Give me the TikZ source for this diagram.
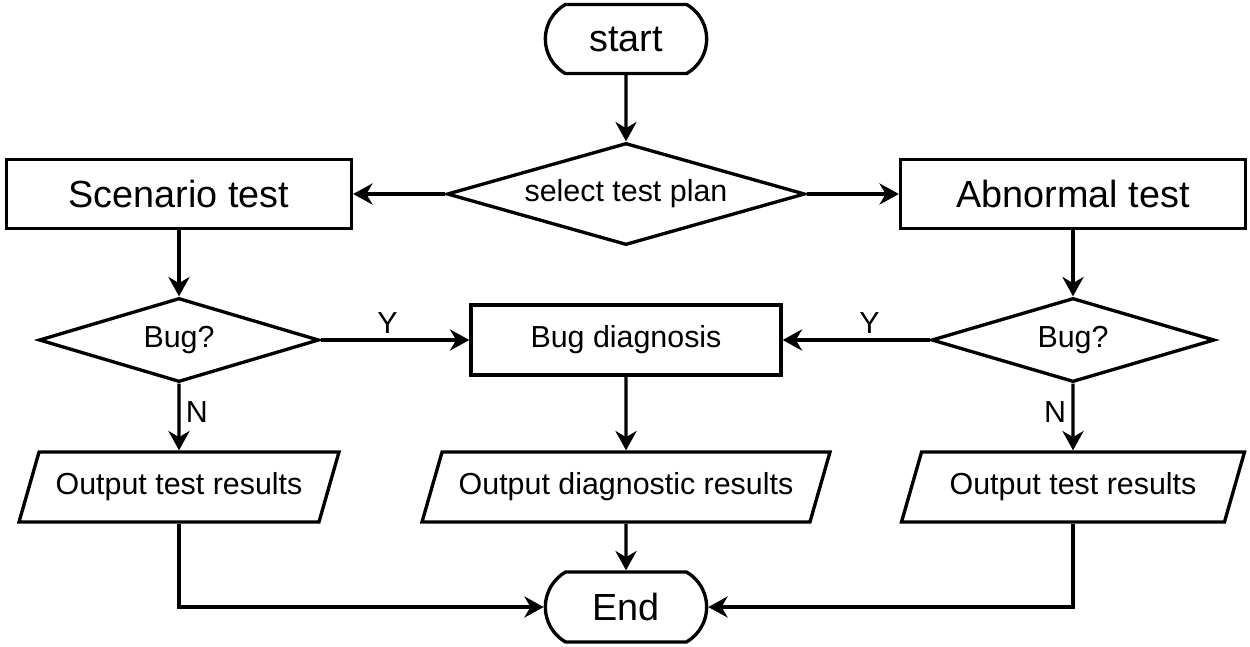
\documentclass[tikz,border=0pt]{standalone}
\usepackage{fontspec}
\setmainfont{Liberation Sans}
\usetikzlibrary{shapes.geometric}
\usetikzlibrary{shapes.misc}
\usetikzlibrary{arrows.meta}
\newcommand{\bigtxt}{\fontsize{21.5}{25}\selectfont}
\newcommand{\smalltxt}{\fontsize{17.3}{20}\selectfont}
\tikzset{
	line/.style={line width=1.9pt},
	arr/.style={line, -{Stealth[length=11pt,width=12pt,inset=3.5pt]}},
	terminal/.style={line, draw, rounded rectangle, rounded rectangle arc length=120,
		minimum width=3.46cm, minimum height=1.38cm, font=\bigtxt},
	process/.style={line, draw, rectangle, minimum width=6.9cm, minimum height=1.38cm, font=\bigtxt},
	decision/.style={line, draw, diamond, aspect=3.4, inner sep=0pt, font=\smalltxt},
	iobox/.style={line, draw, trapezium, trapezium left angle=63.4, trapezium right angle=116.6,
		trapezium stretches body, minimum height=1.4cm, font=\smalltxt},
	yn/.style={font=\smalltxt, inner sep=3pt}
}

\begin{document}
\begin{tikzpicture}
	% page: 1250 x 646 px, 1px = 0.02cm
	\useasboundingbox (0, 0) rectangle (25, -12.92);
	
	% top row
	\node[terminal] (start) at (12.52, -0.78) {start};
	\node[decision, minimum width=7.16cm, minimum height=2.04cm] (plan) at (12.52, -3.88) {select test plan};
	\node[process] (scen) at (3.58, -3.88) {Scenario test};
	\node[process] (abn) at (21.46, -3.88) {Abnormal test};
	
	% bug checks
	\node[decision, minimum width=5.6cm, minimum height=1.68cm] (bugl) at (3.58, -6.8) {Bug?};
	\node[decision, minimum width=5.66cm, minimum height=1.68cm] (bugr) at (21.46, -6.8) {Bug?};
	\node[process, minimum width=6.2cm, minimum height=1.4cm, font=\smalltxt] (diag) at (12.52, -6.8) {Bug diagnosis};
	
	% outputs
	\node[iobox, minimum width=6.4cm] (outl) at (3.58, -9.74) {Output test results};
	\node[iobox, minimum width=8.16cm] (outm) at (12.52, -9.74) {Output diagnostic results};
	\node[iobox, minimum width=6.86cm] (outr) at (21.46, -9.74) {Output test results};
	
	\node[terminal, minimum height=1.4cm] (end) at (12.52, -12.14) {End};
	
	% connectors
	\draw[arr] (start) -- (plan);
	\draw[arr] (plan) -- (scen);
	\draw[arr] (plan) -- (abn);
	\draw[arr] (scen) -- (bugl);
	\draw[arr] (abn) -- (bugr);
	\draw[arr] (bugl) -- node[yn, above, pos=0.45] {Y} (diag);
	\draw[arr] (bugr) -- node[yn, above, pos=0.41] {Y} (diag);
	\draw[arr] (bugl) -- node[yn, right, pos=0.42] {N} (outl);
	\draw[arr] (bugr) -- node[yn, left, pos=0.42] {N} (outr);
	\draw[arr] (diag) -- (outm);
	\draw[arr] (outm) -- (end);
	\draw[arr] (outl) |- (end);
	\draw[arr] (outr) |- (end);
	
\end{tikzpicture}
\end{document}
